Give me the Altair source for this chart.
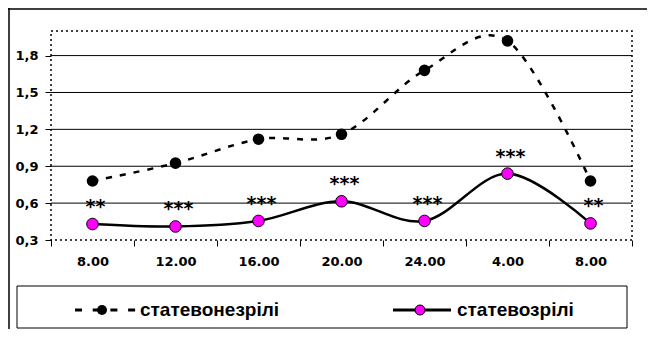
import altair as alt
import pandas as pd

# ---- data ----
times = ["8.00", "12.00", "16.00", "20.00", "24.00", "4.00", "8.00"]
immature = [0.78, 0.925, 1.12, 1.16, 1.68, 1.92, 0.78]     # статевонезрілі
mature = [0.43, 0.41, 0.455, 0.615, 0.455, 0.84, 0.435]    # статевозрілі
stars = ["**", "***", "***", "***", "***", "***", "**"]
y_ticks = [0.3, 0.6, 0.9, 1.2, 1.5, 1.8]
grid_vals = [0.6, 0.9, 1.2, 1.5, 1.8]
legend_labels = ["статевонезрілі", "статевозрілі"]

df = pd.DataFrame({"i": list(range(len(times))), "t": times,
                   "imm": immature, "mat": mature, "star": stars})
grid_df = pd.DataFrame({"g": grid_vals})
one = alt.Data(values=[{"k": 1}])

label_expr = "[" + ",".join("'" + t + "'" for t in times) + "][datum.value]"

yscale = alt.Scale(domain=[0.3, 2.0], nice=False, zero=False)
xscale = alt.Scale(type="band", paddingInner=0, paddingOuter=0)

x_axis = alt.Axis(title=None, labelExpr=label_expr, labelAngle=0, tickBand="extent",
                  domain=False, grid=False, tickColor="black", tickSize=6, tickWidth=1,
                  labelPadding=9, labelFont="DejaVu Sans", labelFontWeight="bold",
                  labelFontSize=13, labelColor="black")
y_axis = alt.Axis(title=None, values=y_ticks,
                  labelExpr="replace(format(datum.value, '.1f'), '.', ',')",
                  domain=False, grid=False, tickColor="black", tickSize=6, tickWidth=1,
                  labelPadding=7, labelFont="DejaVu Sans", labelFontWeight="bold",
                  labelFontSize=13, labelColor="black")

X = alt.X("i:O", scale=xscale, axis=x_axis)

base = alt.Chart(df)

grid = alt.Chart(grid_df).mark_rule(color="black", strokeWidth=1).encode(
    y=alt.Y("g:Q", scale=yscale, axis=y_axis))

imm_line = base.mark_line(color="black", strokeWidth=2.5, strokeDash=[6, 8],
                          interpolate="cardinal").encode(
    x=X, y=alt.Y("imm:Q", scale=yscale, axis=y_axis))
imm_pts = base.mark_point(filled=True, color="black", size=135, opacity=1, shape="circle").encode(
    x=X, y=alt.Y("imm:Q", scale=yscale, axis=y_axis))

mat_line = base.mark_line(color="black", strokeWidth=2.5, interpolate="cardinal").encode(
    x=X, y=alt.Y("mat:Q", scale=yscale, axis=y_axis))
mat_pts = base.mark_point(filled=True, fill="#ff00ff", stroke="black", strokeWidth=1,
                          size=135, opacity=1, shape="circle").encode(
    x=X, y=alt.Y("mat:Q", scale=yscale, axis=y_axis))

star_txt = base.mark_text(font="DejaVu Sans", fontWeight="bold", fontSize=19,
                          baseline="alphabetic", align="center", dx=3, dy=-11,
                          color="black").encode(
    x=X, y=alt.Y("mat:Q", scale=yscale, axis=y_axis), text="star:N")

# outer frame (top and left visible)
frame_top = alt.Chart(one).mark_rule(color="black", strokeWidth=1.5).encode(
    x=alt.value(-43), x2=alt.value(600), y=alt.value(-22))
frame_left = alt.Chart(one).mark_rule(color="black", strokeWidth=1.5).encode(
    x=alt.value(-42), y=alt.value(-23), y2=alt.value(300))

# legend box and items
leg_box = alt.Chart(one).mark_rect(fill="white", stroke="black", strokeWidth=1).encode(
    x=alt.value(-34), x2=alt.value(576), y=alt.value(255), y2=alt.value(297))
leg1_line = alt.Chart(one).mark_rule(color="black", strokeWidth=3, strokeDash=[7, 10.7]).encode(
    x=alt.value(24), x2=alt.value(85), y=alt.value(279))
leg1_pt = alt.Chart(one).mark_point(filled=True, color="black", size=100, opacity=1,
                                    shape="circle").encode(x=alt.value(51), y=alt.value(279))
leg1_txt = alt.Chart(one).mark_text(align="left", baseline="middle", font="Liberation Sans",
                                    fontWeight="bold", fontSize=19, color="black").encode(
    x=alt.value(89), y=alt.value(279), text=alt.value(legend_labels[0]))
leg2_line = alt.Chart(one).mark_rule(color="black", strokeWidth=3).encode(
    x=alt.value(342), x2=alt.value(400), y=alt.value(279))
leg2_pt = alt.Chart(one).mark_point(filled=True, fill="#ff00ff", stroke="black", strokeWidth=1,
                                    size=100, opacity=1, shape="circle").encode(
    x=alt.value(369), y=alt.value(279))
leg2_txt = alt.Chart(one).mark_text(align="left", baseline="middle", font="Liberation Sans",
                                    fontWeight="bold", fontSize=19, color="black").encode(
    x=alt.value(406), y=alt.value(279), text=alt.value(legend_labels[1]))

chart = alt.layer(
    frame_top, frame_left, grid, imm_line, mat_line, imm_pts, mat_pts, star_txt,
    leg_box, leg1_line, leg1_pt, leg1_txt, leg2_line, leg2_pt, leg2_txt
).properties(
    width=581, height=209,
    padding={"left": 43, "top": 23, "right": 15, "bottom": 89},
    autosize=alt.AutoSizeParams(type="none"),
    background="white",
).configure_view(
    stroke="black", strokeDash=[2, 3], strokeWidth=1.5
)

chart.save("out.html", embed_options={"renderer": "svg", "actions": False})
